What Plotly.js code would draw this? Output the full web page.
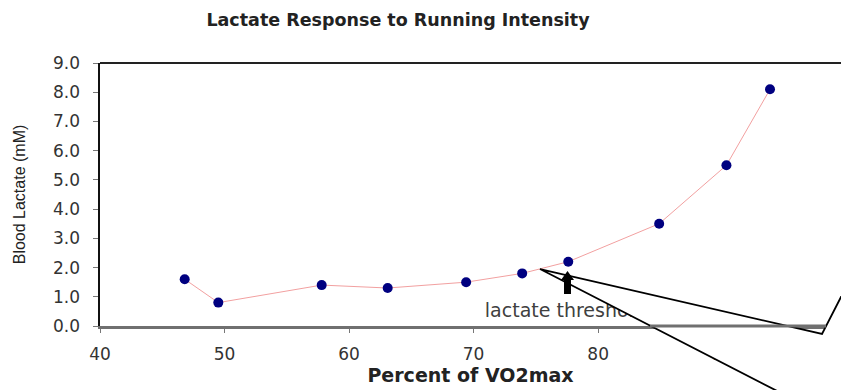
<!DOCTYPE html>
<html>
<head>
<meta charset="utf-8">
<script src="https://cdn.plot.ly/plotly-3.0.1.min.js"></script>
<style>html,body{margin:0;padding:0;background:#fff;}#chart{width:841px;height:390px;}</style>
</head>
<body>
<div id="chart"></div>
<script>
// Data
const vo2Percent = [46.8, 49.5, 57.8, 63.1, 69.4, 73.9, 77.6, 84.9, 90.3, 93.8];
const bloodLactate = [1.6, 0.8, 1.4, 1.3, 1.5, 1.8, 2.2, 3.5, 5.5, 8.1];
const xTickValues = [40, 50, 60, 70, 80, 90, 100];
const yTickValues = [0, 1, 2, 3, 4, 5, 6, 7, 8, 9];
const chartTitle = "Lactate Response to Running Intensity";
const xTitle = "Percent of VO2max";
const yTitle = "Blood Lactate (mM)";
const thresholdLabel = "lactate threshold";
const thresholdLabelPos = [70.9, 0.46];

const WIDE = "DejaVu Sans, Verdana, sans-serif";
const NARROW = "Liberation Sans, Arial, sans-serif";

const traces = [
  {
    x: vo2Percent, y: bloodLactate,
    type: "scatter", mode: "lines+markers",
    line: {color: "#f2a0a0", width: 1},
    marker: {color: "#000080", size: 10},
    hoverinfo: "skip", showlegend: false
  },
  {
    x: [thresholdLabelPos[0]], y: [thresholdLabelPos[1]],
    type: "scatter", mode: "text",
    text: [thresholdLabel], textposition: "middle right",
    textfont: {family: WIDE, size: 19, color: "#404040"},
    hoverinfo: "skip", showlegend: false
  }
];

// pixel -> paper helpers for the decorative callout (plot area: x 100..841, y 63..326)
const L = 100, R = 841, T = 63, B = 326;
const px = v => ((v - L) / (R - L)).toFixed(4);
const py = v => ((B - v) / (B - T)).toFixed(4);

const wedgePath = `M ${px(540)} ${py(269)} L ${px(822)} ${py(334)} L ${px(841)} ${py(297)} L ${px(845)} ${py(297)} L ${px(845)} ${py(395)} L ${px(785)} ${py(395)} Z`;
const arrowPath = `M ${px(564)} ${py(294)} L ${px(571)} ${py(294)} L ${px(571)} ${py(280)} L ${px(574)} ${py(280)} L ${px(567.5)} ${py(271)} L ${px(561)} ${py(280)} L ${px(564)} ${py(280)} Z`;

const layout = {
  width: 841, height: 390,
  margin: {l: L, r: 0, t: T, b: 390 - B, pad: 0},
  paper_bgcolor: "#ffffff", plot_bgcolor: "#ffffff",
  font: {family: WIDE, size: 17, color: "#333333"},
  title: {
    text: "<b>" + chartTitle + "</b>",
    font: {family: WIDE, size: 17.5, color: "#222222"},
    x: 398 / 841, xanchor: "center", xref: "container",
    y: 1 - 20 / 390, yanchor: "middle", yref: "container"
  },
  xaxis: {
    range: [40, 99.5],
    tickmode: "array", tickvals: xTickValues,
    ticks: "outside", ticklen: 4, tickwidth: 1, tickcolor: "#777777",
    showgrid: false, zeroline: false,
    showline: true, linecolor: "#707070", linewidth: 3,
    tickfont: {family: WIDE, size: 17, color: "#333333"},
    ticklabelstandoff: 7,
    title: {text: "<b>" + xTitle + "</b>", font: {family: WIDE, size: 19, color: "#222222"}, standoff: 5}
  },
  yaxis: {
    range: [0, 9],
    tickmode: "array", tickvals: yTickValues, tickformat: ".1f",
    ticks: "outside", ticklen: 5, tickwidth: 1, tickcolor: "#777777",
    showgrid: false, zeroline: false,
    showline: true, linecolor: "#111111", linewidth: 2.5,
    tickfont: {family: WIDE, size: 17, color: "#333333"},
    ticklabelstandoff: 9,
    title: {text: yTitle, font: {family: NARROW, size: 16, color: "#222222"}, standoff: 24}
  },
  shapes: [
    {type: "line", xref: "paper", yref: "paper", x0: 0, x1: 1, y0: 1, y1: 1,
     line: {color: "#222222", width: 2}, layer: "above"},
    {type: "path", xref: "paper", yref: "paper", path: wedgePath,
     fillcolor: "#ffffff", line: {color: "#000000", width: 1.8}, layer: "above"},
    {type: "line", xref: "paper", yref: "paper", x0: px(650), x1: px(826), y0: 0, y1: 0,
     line: {color: "#707070", width: 3}, layer: "above"},
    {type: "path", xref: "paper", yref: "paper", path: arrowPath,
     fillcolor: "#000000", line: {color: "#000000", width: 0}, layer: "above"}
  ]
};

Plotly.newPlot("chart", traces, layout, {staticPlot: true, displayModeBar: false});
</script>
</body>
</html>
